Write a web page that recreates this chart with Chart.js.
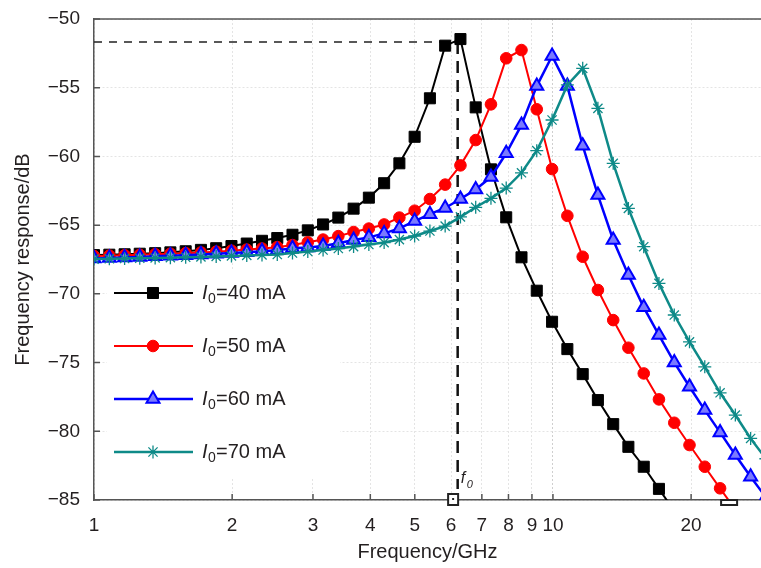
<!DOCTYPE html>
<html>
<head>
<meta charset="utf-8">
<script src="https://cdn.jsdelivr.net/npm/chart.js@4.4.0/dist/chart.umd.min.js"></script>
<style>
html, body { margin: 0; padding: 0; background: #fff; overflow: hidden; }
#wrap { width: 761px; height: 568px; position: relative; }
</style>
</head>
<body>
<div id="wrap"><canvas id="chart"></canvas></div>
<script>
// sweep frequencies (GHz), log spaced
var freq = [1.000, 1.080, 1.166, 1.258, 1.359, 1.467, 1.584, 1.710, 1.846, 1.993,
            2.152, 2.323, 2.508, 2.707, 2.923, 3.156, 3.407, 3.678, 3.971, 4.287,
            4.628, 4.996, 5.394, 5.823, 6.287, 6.787, 7.327, 7.910, 8.540, 9.220,
            9.956, 10.75, 11.61, 12.53, 13.53, 14.60, 15.77, 17.02, 18.38, 19.84,
            21.42, 23.13, 24.97, 26.96, 29.10];

// frequency response in dB for each bias current
var resp40 = [-67.18, -67.15, -67.12, -67.08, -67.04, -66.98, -66.90, -66.80, -66.68, -66.52,
              -66.34, -66.14, -65.94, -65.70, -65.38, -64.95, -64.45, -63.80, -63.00, -61.95,
              -60.50, -58.57, -55.77, -51.94, -51.46, -56.43, -60.94, -64.43, -67.34, -69.77,
              -72.03, -74.02, -75.84, -77.73, -79.48, -81.13, -82.58, -84.19, -85.80];
var resp50 = [-67.25, -67.22, -67.19, -67.16, -67.12, -67.08, -67.04, -66.99, -66.93, -66.86,
              -66.78, -66.70, -66.60, -66.45, -66.25, -66.05, -65.80, -65.50, -65.25, -64.95,
              -64.45, -63.95, -63.10, -62.05, -60.65, -58.81, -56.21, -52.86, -52.26, -56.57,
              -60.92, -64.32, -67.30, -69.72, -71.91, -73.92, -75.79, -77.68, -79.38, -81.00,
              -82.58, -84.15, -85.70];
var resp60 = [-67.42, -67.39, -67.35, -67.31, -67.27, -67.23, -67.19, -67.14, -67.09, -67.03,
              -66.97, -66.90, -66.82, -66.69, -66.62, -66.52, -66.32, -66.08, -65.89, -65.60,
              -65.24, -64.70, -64.20, -63.75, -63.10, -62.40, -61.50, -59.77, -57.71, -54.88,
              -52.69, -54.88, -59.22, -62.81, -66.08, -68.63, -70.98, -73.00, -74.99, -76.76,
              -78.46, -80.08, -81.73, -83.31, -84.80];
var resp70 = [-67.47, -67.45, -67.43, -67.41, -67.39, -67.37, -67.34, -67.31, -67.28, -67.24,
              -67.20, -67.17, -67.14, -67.03, -66.92, -66.81, -66.70, -66.56, -66.41, -66.27,
              -66.05, -65.79, -65.43, -65.07, -64.40, -63.70, -63.05, -62.30, -61.19, -59.58,
              -57.35, -54.80, -53.59, -56.50, -60.50, -63.78, -66.57, -69.24, -71.54, -73.49,
              -75.31, -77.20, -78.82, -80.52, -82.00];

var currents = [40, 50, 60, 70];
var xTicks = [1, 2, 3, 4, 5, 6, 7, 8, 9, 10, 20];
var yTicks = [-85, -80, -75, -70, -65, -60, -55, -50];

// f0 guide (peak of the 40 mA curve) and the two markers on the axis
var f0Freq = 6.2;
var f0Level = -51.67;
var markFreq = [6.06, 24.2];

function toPoints(ys) {
    var out = [];
    for (var i = 0; i < ys.length; ++i)
        out.push({x: freq[i], y: ys[i]});
    return out;
}

var series = [
    {data: resp40, color: "#000000", style: "rect", radius: 7.8, fill: "#000000", bw: 1, lw: 2},
    {data: resp50, color: "#ff0000", style: "circle", radius: 5.8, fill: "#ff0000", bw: 1, lw: 2},
    {data: resp60, color: "#0000ff", style: "triangle", radius: 7.5, fill: "#7a7aff", bw: 2, lw: 2.5},
    {data: resp70, color: "#0e8a88", style: "star", radius: 6.5, fill: "#0e8a88", bw: 1.3, lw: 2.5}
];

var datasets = series.map(function (s, i) {
    return {
        label: "I0=" + currents[i] + " mA",
        data: toPoints(s.data),
        borderColor: s.color,
        backgroundColor: s.fill,
        borderWidth: s.lw,
        pointStyle: s.style,
        pointRadius: s.radius,
        pointBackgroundColor: s.fill,
        pointBorderColor: s.color,
        pointBorderWidth: s.bw,
        tension: 0,
        order: 4 - i
    };
});

datasets.push({
    label: "guideH",
    data: [{x: 1, y: f0Level}, {x: f0Freq, y: f0Level}],
    borderColor: "#222",
    borderWidth: 1.5,
    borderDash: [8, 7],
    pointRadius: 0,
    order: 10
});
datasets.push({
    label: "guideV",
    data: [{x: f0Freq, y: f0Level}, {x: f0Freq, y: -84.2}],
    borderColor: "#111",
    borderWidth: 2.5,
    borderDash: [12, 7],
    pointRadius: 0,
    order: 10
});

var TEXT = "#231f20";
var FONT = '"Liberation Sans", Arial, sans-serif';
Chart.defaults.font.family = FONT;
Chart.defaults.color = TEXT;

var extras = {
    id: "extras",
    afterDatasetsDraw: function (chart) {
        var ctx = chart.ctx, a = chart.chartArea;
        var xs = chart.scales.x, ys = chart.scales.y;
        ctx.save();

        // top frame line
        ctx.strokeStyle = "#555";
        ctx.lineWidth = 1.5;
        ctx.beginPath();
        ctx.moveTo(a.left, a.top);
        ctx.lineTo(a.right, a.top);
        ctx.stroke();

        // inward tick marks
        ctx.beginPath();
        xTicks.forEach(function (v) {
            var px = xs.getPixelForValue(v);
            ctx.moveTo(px, a.bottom);
            ctx.lineTo(px, a.bottom - 6);
        });
        yTicks.forEach(function (v) {
            var py = ys.getPixelForValue(v);
            ctx.moveTo(a.left, py);
            ctx.lineTo(a.left + 6, py);
        });
        ctx.stroke();

        // markers on the frequency axis
        ctx.strokeStyle = "#222";
        ctx.lineWidth = 2;
        var m1 = xs.getPixelForValue(markFreq[0]);
        ctx.fillStyle = "#fff";
        ctx.fillRect(m1 - 5, a.bottom - 6, 10, 11);
        ctx.strokeRect(m1 - 5, a.bottom - 6, 10, 11);
        ctx.fillStyle = "#222";
        ctx.fillRect(m1 - 1, a.bottom - 2, 2, 2);
        var m2 = xs.getPixelForValue(markFreq[1]);
        ctx.strokeRect(m2 - 8, a.bottom, 16, 5);

        // f0 label
        var fx = xs.getPixelForValue(f0Freq) + 3;
        ctx.fillStyle = TEXT;
        ctx.textBaseline = "alphabetic";
        ctx.textAlign = "left";
        ctx.font = "italic 16px " + FONT;
        ctx.fillText("f", fx, 483);
        ctx.font = "italic 11px " + FONT;
        ctx.fillText("0", fx + 6, 488);

        // legend
        ctx.fillStyle = "#ffffff";
        ctx.fillRect(107, 270, 233, 208);
        for (var i = 0; i < series.length; ++i) {
            var s = series[i];
            var y = 293 + i * 53;
            ctx.strokeStyle = s.color;
            ctx.lineWidth = s.lw;
            ctx.setLineDash([]);
            ctx.beginPath();
            ctx.moveTo(114, y);
            ctx.lineTo(193, y);
            ctx.stroke();
            ctx.fillStyle = s.fill;
            ctx.lineWidth = s.bw;
            Chart.helpers.drawPoint(ctx, {pointStyle: s.style, radius: s.radius, rotation: 0, borderWidth: s.bw}, 153, y);

            ctx.fillStyle = TEXT;
            ctx.textBaseline = "middle";
            ctx.font = "italic 20px " + FONT;
            ctx.fillText("I", 202, y);
            ctx.font = "14px " + FONT;
            ctx.fillText("0", 208, y + 6);
            ctx.font = "20px " + FONT;
            ctx.fillText("=" + currents[i] + " mA", 216, y);
        }
        ctx.restore();
    }
};

new Chart(document.getElementById("chart"), {
    type: "line",
    data: {datasets: datasets},
    options: {
        responsive: true,
        maintainAspectRatio: false,
        animation: false,
        layout: {autoPadding: false, padding: {top: 19, right: 0, bottom: 0, left: 0}},
        plugins: {legend: {display: false}, tooltip: {enabled: false}},
        scales: {
            x: {
                type: "logarithmic",
                min: 1,
                max: 28.4,
                afterBuildTicks: function (scale) {
                    scale.ticks = xTicks.map(function (v) { return {value: v}; });
                },
                afterFit: function (scale) {
                    scale.height = 68;
                    scale.paddingLeft = 0;
                    scale.paddingRight = 0;
                },
                ticks: {
                    autoSkip: false,
                    maxRotation: 0,
                    padding: 14,
                    font: {size: 19},
                    callback: function (v) { return String(v); }
                },
                grid: {color: function (c) { return c.tick && c.tick.value === 10 ? "#cfcfcf" : "#e4e4e4"; }, drawTicks: false, tickLength: 0},
                border: {color: "#555", width: 1.5, dash: [2, 2]},
                title: {display: true, text: "Frequency/GHz", font: {size: 20}, padding: {top: 0, bottom: 4}}
            },
            y: {
                min: -85,
                max: -50,
                afterBuildTicks: function (scale) {
                    scale.ticks = yTicks.map(function (v) { return {value: v}; });
                },
                afterFit: function (scale) {
                    scale.width = 94;
                    scale.paddingTop = 0;
                    scale.paddingBottom = 0;
                },
                ticks: {
                    padding: 14,
                    font: {size: 19},
                    callback: function (v) { return v < 0 ? "\u2212" + Math.abs(v) : String(v); }
                },
                grid: {color: "#e4e4e4", drawTicks: false, tickLength: 0},
                border: {color: "#555", width: 1.5, dash: [2, 2]},
                title: {display: true, text: "Frequency response/dB", font: {size: 20}, padding: {top: 11, bottom: 0}}
            }
        }
    },
    plugins: [extras]
});
</script>
</body>
</html>
